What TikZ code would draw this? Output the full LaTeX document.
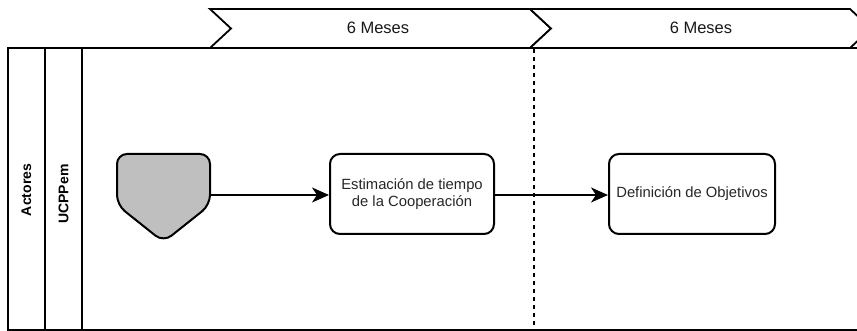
\documentclass[tikz,border=0pt]{standalone}
\usepackage{fontspec}
\setmainfont{Liberation Sans}
\usetikzlibrary{arrows.meta}
\tikzset{
  lanetext/.style={font=\bfseries\fontsize{14}{16}\selectfont, rotate=90, inner sep=0pt},
  task/.style={draw, line width=2pt, rounded corners=10pt, minimum width=164pt, minimum height=80pt, align=center, inner sep=2pt, font=\fontsize{14.8}{17.5}\selectfont, text=black!85},
  chev/.style={draw, line width=1.8pt, fill=white},
  flow/.style={line width=2pt, -{Stealth[length=17pt,width=15pt,inset=5pt]}},
  phase/.style={font=\fontsize{16.5}{19}\selectfont, text=black!90, inner sep=0pt}
}
\begin{document}
\begin{tikzpicture}[x=1pt,y=-1pt]
\useasboundingbox (0,0) rectangle (857,331);
\clip (0,0) rectangle (857,331);
% chevrons
\draw[chev] (210,9) -- (530,9) -- (551,28.5) -- (530,48) -- (210,48) -- (231,28.5) -- cycle;
\draw[chev] (530,9) -- (850,9) -- (871,28.5) -- (850,48) -- (530,48) -- (551,28.5) -- cycle;
\node[phase] (p1) at (378,28) {6 Meses};
\node[phase] (p2) at (701,28) {6 Meses};
% pool
\draw[line width=2.2pt] (8,48) rectangle (880,330);
\draw[line width=1.6pt] (45,48) -- (45,330);
\draw[line width=1.6pt] (82,48) -- (82,330);
\node[lanetext] (actores) at (26.5,190) {Actores};
\node[lanetext] (ucppem) at (63.5,194) {UCPPem};
% dashed divider
\draw[line width=2pt, dash pattern=on 4pt off 4pt] (534,49) -- (534,331);
% start shape
\draw[line width=2pt, fill=black!25, rounded corners=10pt] (117,180) -- (117,154) -- (210,154) -- (210,205) -- (163.5,242) -- (117,205) -- cycle;
\node[minimum width=93pt, minimum height=88pt, inner sep=0pt] (start) at (163.5,195) {};
% tasks
\node[task] (t1) at (412,194) {Estimación de tiempo\\de la Cooperación};
\node[task, minimum width=166pt] (t2) at (692,194) {Definición de Objetivos};
% flows
\draw[flow] (start.east |- 0,195) -- (t1.west |- 0,195);
\draw[flow] (t1.east |- 0,195) -- (t2.west |- 0,195);
\end{tikzpicture}
\end{document}
